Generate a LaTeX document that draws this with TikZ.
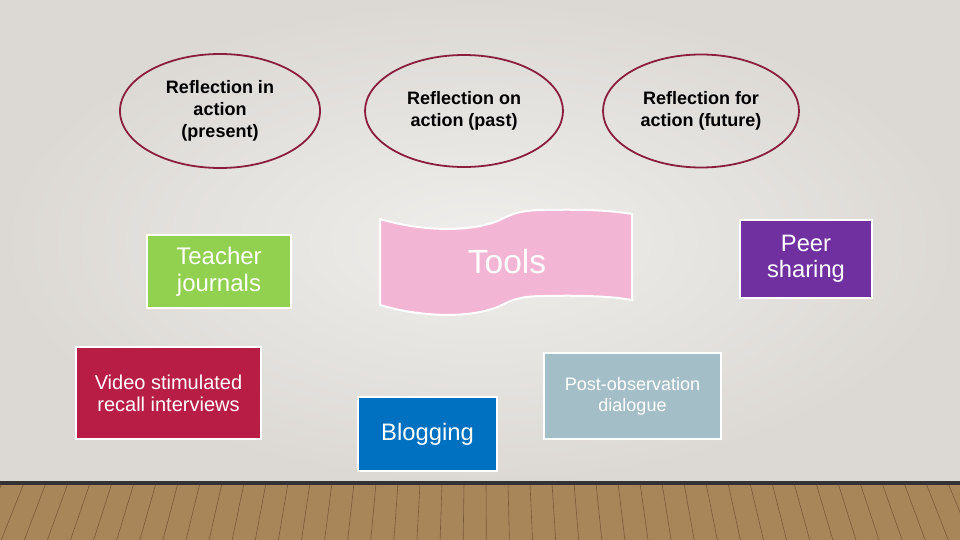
\documentclass[tikz,border=0pt]{standalone}
\usepackage{fontspec}
\setmainfont{Liberation Sans}
\usetikzlibrary{shapes.geometric}
\definecolor{bgc}{HTML}{DCD9D4}
\definecolor{bgl}{HTML}{EFEEEC}
\definecolor{ellc}{HTML}{8A1E3C}
\definecolor{greenc}{HTML}{92D050}
\definecolor{pinkc}{HTML}{F2B6D4}
\definecolor{purc}{HTML}{7030A0}
\definecolor{redc}{HTML}{B81E45}
\definecolor{bluec}{HTML}{0070C0}
\definecolor{greyc}{HTML}{A4BEC8}
\definecolor{woodc}{HTML}{A9855A}
\definecolor{woodd}{HTML}{5A3E22}
\tikzset{
  refl/.style={ellipse, draw=ellc, line width=1.8pt, inner sep=0pt, align=center,
    font=\fontsize{18}{22}\selectfont\bfseries, text=black},
  box/.style={rectangle, draw=white, line width=2pt, inner sep=0pt, align=center, text=white},
}
\begin{document}
\begin{tikzpicture}[x=1pt,y=-1pt]
\useasboundingbox (0,0) rectangle (960,540);
% background
\shade[inner color=bgl, outer color=bgc] (0,0) rectangle (960,483);
% floor
\fill[woodc] (0,483) rectangle (960,540);
\foreach \x in {-20,2,...,1000} {
  \draw[woodd, line width=0.6pt, opacity=0.6] (\x,483) -- ({480+(\x-480)*1.05},540);
}
\fill[black!80] (0,481) rectangle (960,485);
% ellipses
\node[refl, minimum width=200pt, minimum height=114pt] (rin) at (220,111) {Reflection in\\action\\(present)};
\node[refl, minimum width=198pt, minimum height=112pt] (ron) at (464,111) {Reflection on\\action (past)};
\node[refl, minimum width=196pt, minimum height=113pt] (rfor) at (701,111) {Reflection for\\action (future)};
% tools wave
\draw[fill=pinkc, draw=white, line width=2pt]
  (380,219) .. controls (420,231) and (470,233) .. (500,220)
  .. controls (513,213) and (523,210) .. (545,210)
  .. controls (590,209) and (615,211) .. (632,214)
  -- (632,300)
  .. controls (615,297) and (590,295) .. (545,296)
  .. controls (523,296) and (513,299) .. (500,306)
  .. controls (470,319) and (420,317) .. (380,305) -- cycle;
\node[text=white, font=\fontsize{33.5}{38}\selectfont] (tools) at (507,262) {Tools};
% boxes
\node[box, fill=greenc, minimum width=144pt, minimum height=73pt, font=\fontsize{24}{27}\selectfont] (tj) at (219,271.5) {Teacher\\journals};
\node[box, fill=purc, minimum width=132pt, minimum height=78pt, font=\fontsize{23.7}{26}\selectfont] (peer) at (806,259) {Peer\\sharing};
\node[box, fill=redc, minimum width=185pt, minimum height=92pt, font=\fontsize{20}{22}\selectfont] (vid) at (168.5,393) {Video stimulated\\recall interviews};
\node[box, fill=bluec, minimum width=139pt, minimum height=74pt, font=\fontsize{23.8}{26}\selectfont] (blog) at (427.5,434) {Blogging};
\node[box, fill=greyc, minimum width=177pt, minimum height=86pt, font=\fontsize{18}{21}\selectfont] (post) at (632.5,396) {Post-observation\\dialogue};
\end{tikzpicture}
\end{document}
